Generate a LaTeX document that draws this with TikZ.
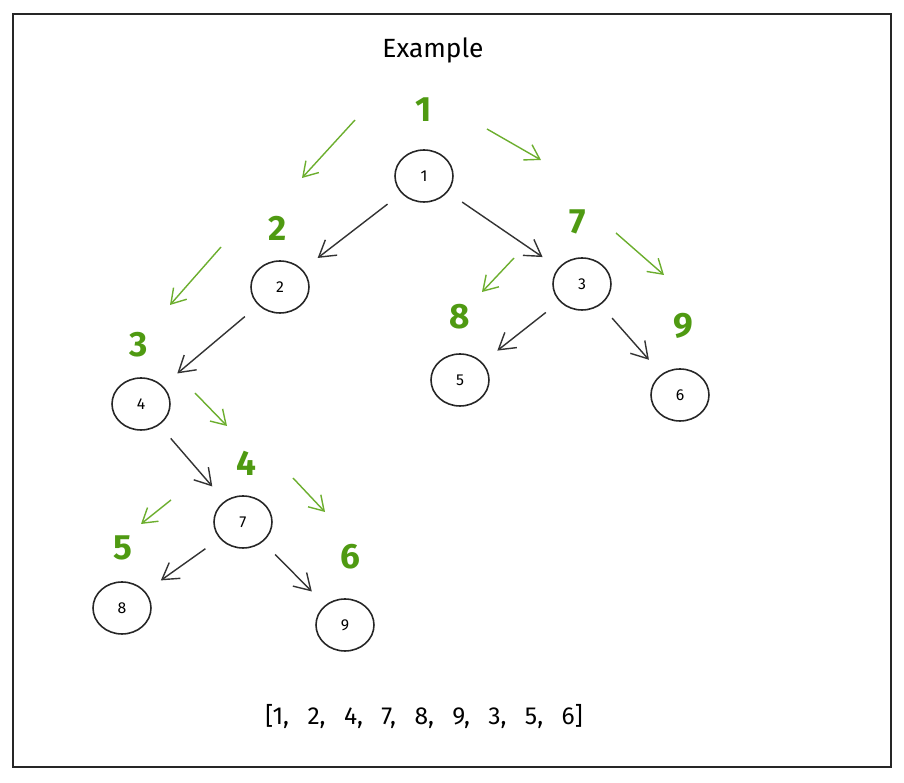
\documentclass[tikz,border=0pt]{standalone}
\usepackage{fontspec}
\setmainfont{Fira Sans}
\usetikzlibrary{shapes.geometric,arrows.meta}
\definecolor{stepgreen}{HTML}{4F9A12}
\definecolor{visitgreen}{HTML}{6CAE2E}
\begin{document}
\begin{tikzpicture}[x=0.02cm,y=-0.02cm]
		\tikzstyle{every node}+=[inner sep=0pt]
		\tikzstyle{vertex}=[draw=black!85, ellipse, line width=0.9pt, minimum width=1.16cm, minimum height=1.04cm, font=\fontsize{9}{9}\selectfont]
		\tikzstyle{edge}=[draw=black!80, line width=0.8pt, -{Straight Barb[length=9pt,width=11pt]}, shorten <=0.35cm, shorten >=0.38cm]
		\tikzstyle{visit}=[draw=visitgreen, line width=0.8pt, -{Straight Barb[length=8pt,width=10pt]}]
		\tikzstyle{order}=[text=stepgreen, font=\fontsize{20}{20}\selectfont\bfseries]
		\useasboundingbox (0,0) rectangle (904,783);
		\draw [black!85, line width=1pt] (13,14) rectangle (891,767);
		\node (title) at (433,50) {\fontsize{15}{15}\selectfont Example};
		% tree
		\node [vertex] (n1) at (424,176) {1};
		\node [vertex] (n2) at (280,287) {2};
		\node [vertex] (n3) at (582,284) {3};
		\node [vertex] (n4) at (141,404) {4};
		\node [vertex] (n5) at (460,380) {5};
		\node [vertex] (n6) at (680,395) {6};
		\node [vertex] (n7) at (243,522) {7};
		\node [vertex] (n8) at (122,608) {8};
		\node [vertex] (n9) at (345,625) {9};
		\draw [edge] (n1) -- (n2);
		\draw [edge] (n1) -- (n3);
		\draw [edge] (n2) -- (n4);
		\draw [edge] (n3) -- (n5);
		\draw [edge] (n3) -- (n6);
		\draw [edge] (n4) -- (n7);
		\draw [edge] (n7) -- (n8);
		\draw [edge] (n7) -- (n9);
		% visiting order
		\node [order] (s1) at (424,110) {1};
		\node [order] (s2) at (278,228) {2};
		\node [order] (s3) at (139,345) {3};
		\node [order] (s4) at (246,463) {4};
		\node [order] (s5) at (123,548) {5};
		\node [order] (s6) at (350,557) {6};
		\node [order] (s7) at (578,222) {7};
		\node [order] (s8) at (460,317) {8};
		\node [order] (s9) at (683,326) {9};
		\coordinate (g1a) at (355,120); \coordinate (g1b) at (302,178);
		\coordinate (g2a) at (487,129); \coordinate (g2b) at (541,160);
		\coordinate (g3a) at (221,247); \coordinate (g3b) at (170,305);
		\coordinate (g4a) at (514,258); \coordinate (g4b) at (482,292);
		\coordinate (g5a) at (616,233); \coordinate (g5b) at (664,275);
		\coordinate (g6a) at (195,393); \coordinate (g6b) at (227,426);
		\coordinate (g7a) at (171,500); \coordinate (g7b) at (141,524);
		\coordinate (g8a) at (293,478); \coordinate (g8b) at (325,512);
		\draw [visit] (g1a) -- (g1b);
		\draw [visit] (g2a) -- (g2b);
		\draw [visit] (g3a) -- (g3b);
		\draw [visit] (g4a) -- (g4b);
		\draw [visit] (g5a) -- (g5b);
		\draw [visit] (g6a) -- (g6b);
		\draw [visit] (g7a) -- (g7b);
		\draw [visit] (g8a) -- (g8b);
		\node (result) at (424,717) {\fontsize{14}{14}\selectfont [1,\hspace{10.5pt}2,\hspace{10.5pt}4,\hspace{10.5pt}7,\hspace{10.5pt}8,\hspace{10.5pt}9,\hspace{10.5pt}3,\hspace{10.5pt}5,\hspace{10.5pt}6]};
	\end{tikzpicture}
\end{document}
